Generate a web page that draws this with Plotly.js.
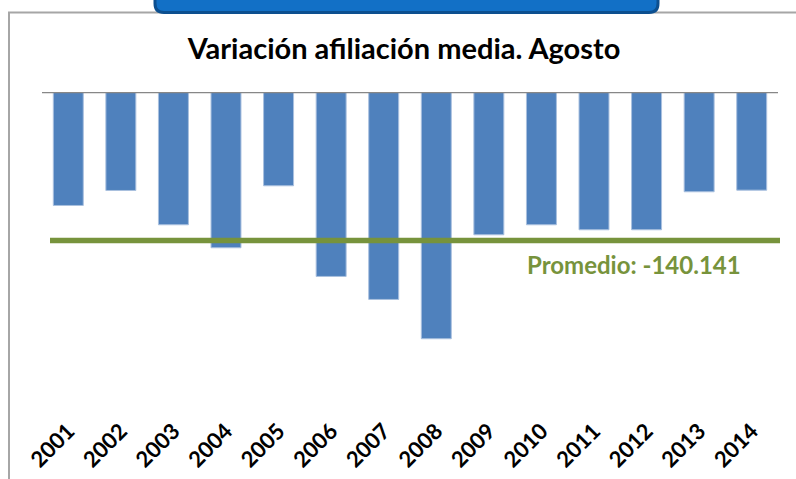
<!DOCTYPE html>
<html>
<head>
<meta charset="utf-8">
<script src="https://cdn.plot.ly/plotly-3.0.1.min.js"></script>
<style>html,body{margin:0;padding:0;background:#fff;}#chart{width:796px;height:479px;}</style>
</head>
<body>
<div id="chart"></div>
<script>
const years = ['2001','2002','2003','2004','2005','2006','2007','2008','2009','2010','2011','2012','2013','2014'];
const variacion = [-107110,-92950,-125330,-147030,-88520,-174110,-195820,-232900,-134760,-125330,-130040,-130040,-94180,-92670];
const promedio = -140141;
const promedioLabel = 'Promedio: -140.141';
const titulo = 'Variación afiliación media. Agosto';

const FONT = 'Lato, "Open Sans", "DejaVu Sans", sans-serif';
const L = 42, R = 18, T = 92, B = 66, W = 796, H = 479;
const pw = W - L - R, ph = H - T - B;
const px = x => (x - L) / pw;
const py = y => (H - B - y) / ph;

const trace = {
  type: 'bar',
  x: years,
  y: variacion,
  marker: {color: '#4F81BD', line: {color: '#A9C0DF', width: 1}},
  hoverinfo: 'x+y'
};

// rounded blue tab at top
const bx0 = px(155), bx1 = px(658), byTop = py(-8), byBot = py(12.5), rX = 9 / pw, rY = 9 / ph;
const tabPath = `M ${bx0} ${byTop} L ${bx0} ${byBot + rY} Q ${bx0} ${byBot} ${bx0 + rX} ${byBot} L ${bx1 - rX} ${byBot} Q ${bx1} ${byBot} ${bx1} ${byBot + rY} L ${bx1} ${byTop} Z`;

const layout = {
  width: W, height: H,
  margin: {l: L, r: R, t: T, b: B, pad: 0},
  paper_bgcolor: '#ffffff', plot_bgcolor: '#ffffff',
  showlegend: false,
  bargap: 0.43,
  title: {
    text: titulo,
    font: {family: FONT, size: 29, color: '#000000', weight: 'bold'},
    x: px(404), xanchor: 'center', xref: 'paper',
    y: 1 - 49 / H, yanchor: 'middle', yref: 'container'
  },
  xaxis: {
    type: 'category',
    tickangle: -45,
    showgrid: false, zeroline: false, showline: false, ticks: '',
    tickfont: {family: FONT, size: 22, color: '#000000', weight: 'bold'},
    automargin: false
  },
  yaxis: {
    range: [-303000, 0],
    showgrid: false, zeroline: false, showline: false, showticklabels: false, ticks: '',
    automargin: false
  },
  shapes: [
    // outer frame (left + top)
    {type: 'rect', xref: 'paper', yref: 'paper', x0: px(9), x1: px(820), y0: py(500), y1: py(12.5),
     line: {color: '#A6A6A6', width: 2}, fillcolor: 'rgba(0,0,0,0)', layer: 'below'},
    // blue tab
    {type: 'path', xref: 'paper', yref: 'paper', path: tabPath,
     fillcolor: '#1270C6', line: {color: '#0C4F8F', width: 3}},
    // zero line
    {type: 'line', xref: 'paper', yref: 'y', x0: 0, x1: 1, y0: 0, y1: 0,
     line: {color: '#878787', width: 2.5}},
    // average line
    {type: 'line', xref: 'paper', yref: 'y', x0: px(50), x1: px(780), y0: promedio, y1: promedio,
     line: {color: '#77933C', width: 5.5}}
  ],
  annotations: [
    {text: promedioLabel, xref: 'paper', yref: 'y', x: px(633.5), y: promedio, yshift: -24,
     xanchor: 'center', yanchor: 'middle', showarrow: false,
     font: {family: FONT, size: 24, color: '#77933C', weight: 'bold'}}
  ]
};

Plotly.newPlot('chart', [trace], layout, {displayModeBar: false, staticPlot: true});
</script>
</body>
</html>
